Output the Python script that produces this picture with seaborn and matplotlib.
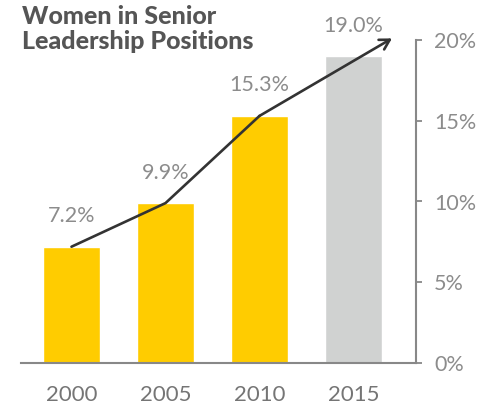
import matplotlib
matplotlib.use("Agg")
import matplotlib.pyplot as plt
import seaborn as sns
import pandas as pd

years = ["2000", "2005", "2010", "2015"]
share = [7.2, 9.9, 15.3, 19.0]
bar_colors = ["#FFCC00", "#FFCC00", "#FFCC00", "#D0D2D1"]
value_labels = ["7.2%", "9.9%", "15.3%", "19.0%"]
y_ticks = [0, 5, 10, 15, 20]
y_tick_labels = ["0%", "5%", "10%", "15%", "20%"]
trend_end = (3.41, 20.1)  # where the arrow tip points

df = pd.DataFrame({"year": years, "share": share})

sns.set_style("white")
plt.rcParams["font.family"] = ["Lato", "DejaVu Sans"]

fig = plt.figure(figsize=(4.84, 4.09), dpi=100)
ax = fig.add_axes([21 / 484, 1 - 363 / 409, (416 - 21) / 484, (363 - 40) / 409])

sns.barplot(data=df, x="year", y="share", hue="year", palette=bar_colors,
            width=0.606, legend=False, ax=ax, saturation=1)

# trend line with arrow
ax.plot(range(3), share[:3], color="#333333", lw=1.9, solid_capstyle="round",
        solid_joinstyle="round", zorder=5)
ax.annotate("", xy=trend_end, xytext=(2, share[2]), annotation_clip=False,
            arrowprops=dict(arrowstyle="->,head_length=0.7,head_width=0.4",
                            color="#333333", lw=1.9, shrinkA=0, shrinkB=0),
            zorder=5)

for i, (v, lab) in enumerate(zip(share, value_labels)):
    ax.annotate(lab, (i, v), xytext=(0, 22), textcoords="offset points",
                ha="center", va="center", fontsize=15.5, color="#8c8c8c",
                annotation_clip=False)

ax.set_xlim(-0.537, 3.665)
ax.set_ylim(0, 20)
ax.yaxis.tick_right()
ax.set_yticks(y_ticks)
ax.set_yticklabels(y_tick_labels)
ax.tick_params(axis="y", length=4, width=1.3, color="#888888", pad=9,
               labelsize=15.5, labelcolor="#8c8c8c", right=True, left=False)
ax.tick_params(axis="x", length=0, pad=16, labelsize=16, labelcolor="#757575")
ax.set_xlabel("")
ax.set_ylabel("")

for side in ["top", "left"]:
    ax.spines[side].set_visible(False)
for side in ["right", "bottom"]:
    ax.spines[side].set_visible(True)
    ax.spines[side].set_color("#888888")
    ax.spines[side].set_linewidth(1.5)

fig.text(22 / 484, 1 - 5 / 409, "Women in Senior\nLeadership Positions",
         ha="left", va="top", fontsize=18, fontweight="black", color="#555555",
         linespacing=1.12)

fig.savefig("out.png", dpi=100)
